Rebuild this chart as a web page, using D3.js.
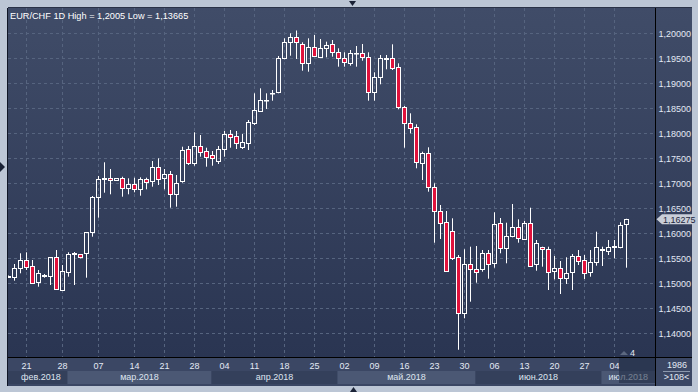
<!DOCTYPE html>
<html><head><meta charset="utf-8">
<script src="https://cdn.jsdelivr.net/npm/d3@7/dist/d3.min.js"></script>
<style>html,body{margin:0;padding:0;background:#bcc6d5;}svg{display:block;font-family:"Liberation Sans",Arial,sans-serif;}</style>
</head><body><svg id="c" width="698" height="392"></svg>
<script>
const title = "EUR/CHF 1D High = 1,2005 Low = 1,13665";
const open = [1.1512,1.15114,1.15294,1.1546,1.1534,1.15014,1.1514,1.15146,1.15514,1.1486,1.15226,1.1558,1.15574,1.15606,1.16014,1.16714,1.1708,1.17094,1.17054,1.17094,1.16894,1.16974,1.16874,1.17074,1.1704,1.17314,1.17094,1.17174,1.16774,1.17046,1.17674,1.17406,1.1774,1.1764,1.1756,1.17446,1.17674,1.17974,1.1794,1.17726,1.17806,1.18206,1.18446,1.1865,1.188,1.18814,1.19494,1.19826,1.19914,1.19774,1.19406,1.19726,1.19526,1.19694,1.19774,1.19626,1.19494,1.19406,1.1959,1.19594,1.19514,1.18826,1.19114,1.1948,1.19494,1.19314,1.18514,1.18194,1.18114,1.17394,1.17594,1.16926,1.16446,1.16214,1.1604,1.15514,1.14394,1.15374,1.15274,1.15274,1.15594,1.15394,1.16194,1.15694,1.1594,1.16114,1.1588,1.16194,1.15374,1.15714,1.15674,1.15246,1.15294,1.15106,1.15226,1.1554,1.1546,1.15214,1.15414,1.1566,1.15646,1.1572,1.15726,1.16174];
const high = [1.1515,1.1538,1.15594,1.15614,1.1546,1.1526,1.1518,1.15514,1.1566,1.1536,1.15614,1.1562,1.15574,1.16014,1.1674,1.1714,1.17414,1.1728,1.171,1.17126,1.17094,1.17106,1.17114,1.17106,1.1744,1.17494,1.1728,1.1724,1.1716,1.17726,1.1774,1.18014,1.1796,1.17706,1.1764,1.1774,1.1804,1.1806,1.1804,1.1798,1.1826,1.18794,1.18894,1.18794,1.1886,1.1954,1.19894,1.19994,1.2005,1.19814,1.19894,1.1996,1.1988,1.19826,1.1986,1.19694,1.19614,1.1966,1.1974,1.1978,1.19614,1.19214,1.1956,1.1956,1.19774,1.19394,1.1854,1.18394,1.18174,1.17626,1.17714,1.16994,1.1656,1.1644,1.16294,1.1556,1.15674,1.15726,1.1574,1.1566,1.1566,1.16414,1.163,1.16206,1.1658,1.16274,1.1624,1.16506,1.1586,1.15726,1.15726,1.1554,1.1544,1.15514,1.1558,1.1566,1.1556,1.1566,1.16026,1.15726,1.1586,1.1586,1.16214,1.16285];
const low = [1.1511,1.15046,1.15194,1.1526,1.14994,1.14926,1.15106,1.1496,1.14874,1.14846,1.15126,1.1496,1.15494,1.15106,1.15926,1.16306,1.16806,1.16774,1.1705,1.16726,1.16774,1.16814,1.16746,1.16874,1.16926,1.1696,1.16874,1.16506,1.16526,1.17006,1.1736,1.17346,1.17526,1.17326,1.17346,1.1738,1.17526,1.17706,1.1768,1.1768,1.1766,1.1816,1.18426,1.1848,1.18646,1.18794,1.19474,1.19546,1.1948,1.19246,1.19226,1.19526,1.19514,1.19514,1.19526,1.19326,1.19326,1.19346,1.19326,1.19446,1.18646,1.18646,1.18974,1.19274,1.1926,1.18474,1.17706,1.17994,1.17294,1.1706,1.16826,1.15806,1.1588,1.15226,1.1546,1.13665,1.14294,1.14626,1.15006,1.15226,1.15086,1.15306,1.15594,1.15394,1.15914,1.15806,1.1586,1.15326,1.15246,1.15326,1.1486,1.15074,1.1478,1.1498,1.1486,1.1536,1.1508,1.15126,1.15346,1.1534,1.1556,1.15494,1.15694,1.15306];
const close = [1.1514,1.15294,1.1546,1.15326,1.15006,1.15194,1.1515,1.15514,1.14874,1.1524,1.1558,1.1559,1.15514,1.16014,1.16714,1.17074,1.1709,1.17054,1.17094,1.16894,1.1698,1.16874,1.17074,1.17014,1.17314,1.17074,1.17174,1.16774,1.16994,1.1766,1.17406,1.1774,1.17626,1.17526,1.17494,1.17674,1.17974,1.17926,1.17794,1.17814,1.18214,1.1846,1.1866,1.1866,1.1881,1.19494,1.19826,1.19914,1.19814,1.19394,1.19726,1.1954,1.19694,1.1976,1.19626,1.19494,1.19414,1.19594,1.196,1.19514,1.18826,1.19114,1.19494,1.1949,1.19294,1.18514,1.18194,1.18106,1.17426,1.17594,1.16926,1.16446,1.16206,1.15246,1.15506,1.14394,1.15374,1.15274,1.15214,1.15606,1.15374,1.16174,1.15694,1.1594,1.16114,1.15894,1.16194,1.15346,1.15794,1.15674,1.15226,1.15294,1.15094,1.15194,1.1554,1.15446,1.15206,1.15414,1.15714,1.1567,1.15714,1.1573,1.1616,1.16275];
const lastPrice = 1.16275;
const yTicks = [1.14,1.145,1.15,1.155,1.16,1.165,1.17,1.175,1.18,1.185,1.19,1.195,1.20];
const xTickIndex = [3,9,15,21,26,31,36,41,46,51,56,61,66,71,76,81,86,91,96,101];
const xTickLabels = ["21","28","07","14","21","28","04","11","18","25","02","09","16","23","30","06","13","20","27","04"];
const monthLabels = ["фев.2018","мар.2018","апр.2018","май.2018","июн.2018","июл.2018"];
const monthStart = [-10,10,34,55,78,99];
const barCountText = "1986";
const zoomText = ">108<";
const scrollCount = "4";

const svg = d3.select("#c");
const W = 698, H = 392;
const L = 8, T = 8, PR = 655, PB = 357, R = 692, B = 386;
const fmt = v => d3.format(".5f")(v).replace(".", ",");

const defs = svg.append("defs");
const g1 = defs.append("linearGradient").attr("id","bg").attr("x1",0).attr("y1",0).attr("x2",0).attr("y2",1);
g1.append("stop").attr("offset","0%").attr("stop-color","#404c68");
g1.append("stop").attr("offset","100%").attr("stop-color","#2a3552");
defs.append("clipPath").attr("id","plotclip").append("rect").attr("x",L).attr("y",T).attr("width",PR-L).attr("height",PB-T);

svg.append("rect").attr("width",W).attr("height",H).attr("fill","#bcc6d5");
svg.append("rect").attr("x",L).attr("y",T).attr("width",R-L).attr("height",PB-T).attr("fill","url(#bg)");
svg.append("rect").attr("x",L).attr("y",PB).attr("width",R-L).attr("height",B-PB).attr("fill","#3b4764");

const x = d3.scaleLinear().domain([0, 103]).range([8.5, 626.5]);
const y = d3.scaleLinear().domain([1.14, 1.20]).range([333, 33]);

// month row
const monthRowY = 371, monthRowH = 13;
const mg = svg.append("g");
monthLabels.forEach((m, k) => {
  const x0 = Math.max(L, x(monthStart[k]) - 1);
  const x1 = k < monthLabels.length - 1 ? x(monthStart[k+1]) - 1 : PR;
  mg.append("rect").attr("x",x0).attr("y",monthRowY).attr("width",x1-x0).attr("height",monthRowH)
    .attr("fill", k % 2 === 0 ? "#34405b" : "#4b5874");
  const t = mg.append("text").text(m).attr("y",379.5).attr("font-size",9).attr("fill","#dfe5ef").attr("text-anchor","middle");
  let cx = (x0 + x1) / 2;
  const tw = t.node().getComputedTextLength();
  if (cx - tw/2 < L + 13) cx = L + 13 + tw/2;
  t.attr("x", cx);
});

// grid
const grid = svg.append("g").attr("clip-path","url(#plotclip)");
grid.selectAll("line.h").data(yTicks).join("line").attr("class","h")
  .attr("x1",L).attr("x2",PR).attr("y1",d=>Math.round(y(d))+0.5).attr("y2",d=>Math.round(y(d))+0.5)
  .attr("stroke","#56647f").attr("stroke-dasharray","3,3");
grid.selectAll("line.v").data(xTickIndex).join("line").attr("class","v")
  .attr("y1",T).attr("y2",PB).attr("x1",d=>x(d)).attr("x2",d=>x(d))
  .attr("stroke","#56647f").attr("stroke-dasharray","3,3");

// candles
const data = open.map((o, i) => ({i, o, h: high[i], l: low[i], c: close[i]}));
const bodyTop = d => Math.round(y(Math.max(d.o,d.c))) + 0.5;
const bodyBot = d => bodyTop(d) + Math.max(0.5, Math.round(y(Math.min(d.o,d.c))) - Math.round(y(Math.max(d.o,d.c))));
const cg = svg.append("g").attr("clip-path","url(#plotclip)");
cg.selectAll("line.wu").data(data).join("line").attr("class","wu")
  .attr("x1",d=>x(d.i)).attr("x2",d=>x(d.i)).attr("y1",d=>y(d.h)).attr("y2",d=>bodyTop(d))
  .attr("stroke","#ffffff").attr("stroke-width",1);
cg.selectAll("line.wl").data(data).join("line").attr("class","wl")
  .attr("x1",d=>x(d.i)).attr("x2",d=>x(d.i)).attr("y1",d=>bodyBot(d)).attr("y2",d=>y(d.l))
  .attr("stroke","#ffffff").attr("stroke-width",1);
cg.selectAll("rect.b").data(data).join("rect").attr("class","b")
  .attr("x",d=>x(d.i)-2).attr("width",4)
  .attr("y",d=>bodyTop(d))
  .attr("height",d=>bodyBot(d)-bodyTop(d))
  .attr("fill",d=>d.c < d.o ? "#e0123c" : "none")
  .attr("stroke","#ffffff").attr("stroke-width",1);

// borders
svg.append("line").attr("x1",L-0.5).attr("x2",L-0.5).attr("y1",T).attr("y2",B).attr("stroke","#101626");
svg.append("line").attr("x1",L).attr("x2",R).attr("y1",T-0.5).attr("y2",T-0.5).attr("stroke","#2a3247");
svg.append("line").attr("x1",PR+0.5).attr("x2",PR+0.5).attr("y1",T).attr("y2",B).attr("stroke","#000000");
svg.append("line").attr("x1",L).attr("x2",R).attr("y1",PB+0.5).attr("y2",PB+0.5).attr("stroke","#000000");

// y axis labels
svg.append("g").selectAll("text").data(yTicks).join("text")
  .attr("x",658.5).attr("y",d=>y(d)+3.5).text(d=>fmt(d))
  .attr("font-size",9).attr("fill","#e3e9f4");

// x labels
svg.append("g").selectAll("text").data(xTickIndex).join("text")
  .attr("x",d=>x(d)).attr("y",369).attr("text-anchor","middle").text((d,k)=>xTickLabels[k])
  .attr("font-size",9).attr("fill","#e3e9f4");

// scroll thumb overlay
svg.append("rect").attr("x",619).attr("y",358).attr("width",PR-619).attr("height",25).attr("fill","#1f2942").attr("opacity",0.55);
svg.append("path").attr("d","M620,355 L624,351 L628,355 Z").attr("fill","#5c6880");
svg.append("text").attr("x",630).attr("y",356).text(scrollCount).attr("font-size",9).attr("fill","#e3e9f4");

// right bottom panel
svg.append("text").attr("x",677).attr("y",368).attr("text-anchor","middle").text(barCountText).attr("font-size",9).attr("fill","#e3e9f4");
svg.append("line").attr("x1",663).attr("x2",690).attr("y1",371.5).attr("y2",371.5).attr("stroke","#8c98ad");
svg.append("text").attr("x",676.5).attr("y",380).attr("text-anchor","middle").text(zoomText).attr("font-size",9).attr("fill","#e3e9f4");

// last price label
const yp = y(lastPrice);
svg.append("path").attr("d",`M656.5,${yp} L662,${yp-5} L693,${yp-5} L693,${yp+5} L662,${yp+5} Z`).attr("fill","#c9ced8");
svg.append("text").attr("x",663).attr("y",yp+3.3).text(fmt(lastPrice)).attr("font-size",9).attr("fill","#1d2740");

// title
svg.append("text").attr("x",10).attr("y",18.5).text(title).attr("font-size",9.2).attr("fill","#ffffff");

// frame markers
svg.append("path").attr("d","M349,1 L356,1 L352.5,6 Z").attr("fill","#1a2236");
svg.append("path").attr("d","M350,392 L357,392 L353.5,387 Z").attr("fill","#1a2236");
svg.append("path").attr("d","M0,162 L5,167 L0,172 Z").attr("fill","#1a2236");
</script></body></html>
